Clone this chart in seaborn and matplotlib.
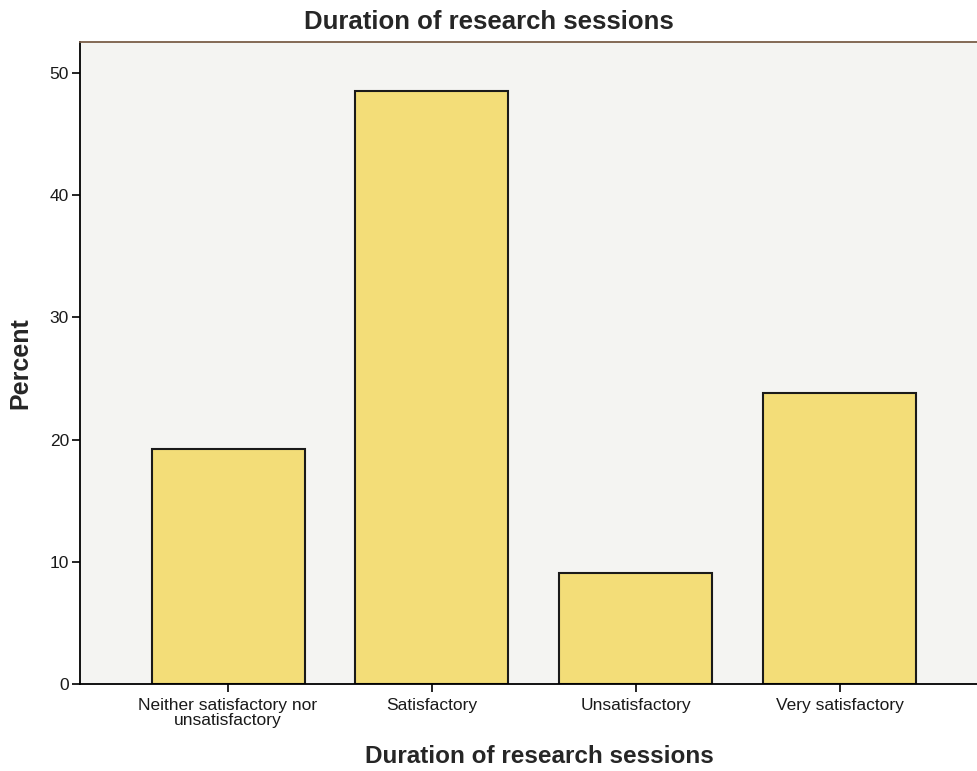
import matplotlib
matplotlib.use("Agg")
import matplotlib.pyplot as plt
import seaborn as sns
import pandas as pd

categories = ["Neither satisfactory nor\nunsatisfactory", "Satisfactory",
              "Unsatisfactory", "Very satisfactory"]
percent = [19.2, 48.5, 9.1, 23.8]
yticks = [0, 10, 20, 30, 40, 50]

sns.set_style("white")
plt.rcParams['font.family'] = ['Liberation Sans', 'DejaVu Sans']

df = pd.DataFrame({"category": categories, "percent": percent})

fig = plt.figure(figsize=(9.78, 7.71), dpi=100)
ax = fig.add_axes([80 / 978, 1 - 684 / 771, 1 - 80 / 978, (684 - 42) / 771])
ax.set_facecolor("#f4f4f2")

sns.barplot(data=df, x="category", y="percent", color="#f3dd78",
            edgecolor="#1a1a1a", linewidth=1.5, width=0.75, saturation=1, ax=ax)

ax.set_xlim(-0.726, 3.678)
ax.set_ylim(0, 52.55)
ax.set_yticks(yticks)
ax.tick_params(axis="both", direction="out", length=6, width=1.2, color="black",
               labelcolor="#1a1a1a", left=True, bottom=True)
ax.tick_params(axis="x", labelsize=12.5, pad=4)
ax.tick_params(axis="y", labelsize=12.5, pad=2)
for lbl in ax.get_xticklabels():
    lbl.set_linespacing(1.05)

for s in ["left", "bottom"]:
    ax.spines[s].set_color("black")
    ax.spines[s].set_linewidth(1.3)
ax.spines["top"].set_color("#7a5e48")
ax.spines["top"].set_linewidth(1.3)
ax.spines["right"].set_visible(False)

ax.set_xlabel("Duration of research sessions", fontsize=17.5, fontweight="bold", labelpad=12)
ax.xaxis.label.set_x((539 - 80) / (978 - 80))
ax.set_ylabel("Percent", fontsize=18, fontweight="bold", labelpad=12)
fig.suptitle("Duration of research sessions", fontsize=18.5, fontweight="bold",
             x=0.5, y=1 - 10 / 771, va="top")

fig.savefig("out.png", dpi=100)
